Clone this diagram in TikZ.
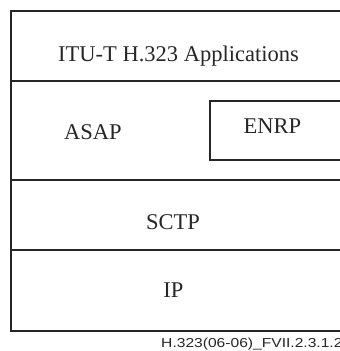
\documentclass[tikz,border=0pt]{standalone}
\usepackage{fontspec}
\setmainfont{Liberation Serif}
\newfontfamily\footfont{Liberation Sans}
\begin{document}
\begin{tikzpicture}[x=1pt,y=1pt,
  layerline/.style={draw=black!85,line width=1.1pt},
  layertext/.style={font=\fontsize{22.5}{26}\selectfont,text=black!85,anchor=base,inner sep=0pt},
  foottext/.style={font=\footfont\fontsize{13}{15}\selectfont,text=black!85,anchor=base west,inner sep=0pt,xscale=1.2}]
\useasboundingbox (0,0) rectangle (340,351);
\clip (0,0) rectangle (340,351);
% outer frame (open on the right)
\coordinate (tl) at (11,340);
\coordinate (tr) at (341,340);
\coordinate (bl) at (11,20);
\coordinate (br) at (341,20);
\draw[layerline] (tr) -- (tl) -- (bl) -- (br);
% layer separators
\coordinate (l1a) at (11,270); \coordinate (l1b) at (341,270);
\coordinate (l2a) at (11,171); \coordinate (l2b) at (341,171);
\coordinate (l3a) at (11,101); \coordinate (l3b) at (341,101);
\draw[layerline] (l1a) -- (l1b);
\draw[layerline] (l2a) -- (l2b);
\draw[layerline] (l3a) -- (l3b);
% ENRP box (open on the right)
\coordinate (e1) at (341,250);
\coordinate (e2) at (210,250);
\coordinate (e3) at (210,191);
\coordinate (e4) at (341,191);
\draw[layerline] (e1) -- (e2) -- (e3) -- (e4);
% texts
\node[layertext] (app) at (178.5,289) {ITU-T H.323 Applications};
\node[layertext] (asap) at (93,211) {ASAP};
\node[layertext] (enrp) at (272.5,217) {ENRP};
\node[layertext] (sctp) at (173,121) {SCTP};
\node[layertext] (ip) at (173.5,53) {IP};
\node[foottext] (foot) at (161,3) {H.323(06-06)\_FVII.2.3.1.2};
\end{tikzpicture}
\end{document}
